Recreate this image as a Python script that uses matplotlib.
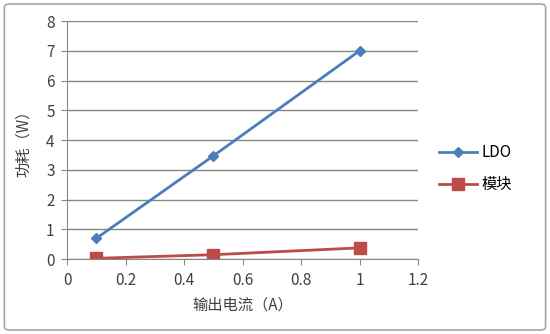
import matplotlib
matplotlib.use('Agg')
import matplotlib.pyplot as plt
from matplotlib.patches import FancyBboxPatch

plt.rcParams['font.family'] = ['Noto Sans CJK SC', 'DejaVu Sans']

current = [0.1, 0.5, 1.0]
ldo_power = [0.7, 3.47, 7.0]
module_power = [0.03, 0.15, 0.38]
x_ticks = [0, 0.2, 0.4, 0.6, 0.8, 1.0, 1.2]
x_labels = ['0', '0.2', '0.4', '0.6', '0.8', '1', '1.2']
y_ticks = [0, 1, 2, 3, 4, 5, 6, 7, 8]

fig = plt.figure(figsize=(5.5, 3.34), dpi=100)
fig.patches.append(FancyBboxPatch((0.008, 0.012), 0.984, 0.976,
                                  boxstyle='round,pad=0,rounding_size=0.01',
                                  transform=fig.transFigure, fc='none',
                                  ec='#a6a6a6', lw=1.2, zorder=-1))
ax = fig.add_axes([0.122, 0.224, 0.638, 0.713])

ax.plot(current, ldo_power, color='#4a7ebb', lw=2, marker='D', ms=5, label='LDO')
ax.plot(current, module_power, color='#be4b48', lw=2, marker='s', ms=8, label='模块')

ax.set_xlim(0, 1.2)
ax.set_ylim(0, 8)
ax.set_xticks(x_ticks)
ax.set_xticklabels(x_labels)
ax.set_yticks(y_ticks)
ax.grid(axis='y', color='#878787', lw=1)
ax.set_axisbelow(True)
for s in ['top', 'right']:
    ax.spines[s].set_visible(False)
ax.spines['left'].set_color('#878787')
ax.spines['bottom'].set_color('#878787')
ax.tick_params(colors='#878787', length=4, labelsize=11, labelcolor='#404040')
ax.tick_params(axis='y', pad=5)
ax.tick_params(axis='x', pad=5)

ax.set_xlabel('输出电流（A）', fontsize=11, color='#404040', labelpad=6)
ax.set_ylabel('功耗（W）', fontsize=11, color='#404040', labelpad=10)

ax.legend(loc='center left', bbox_to_anchor=(1.02, 0.38), frameon=False,
          fontsize=11, handlelength=2.5, labelspacing=1.0, handletextpad=0.3)

fig.savefig('out.png', dpi=100)
